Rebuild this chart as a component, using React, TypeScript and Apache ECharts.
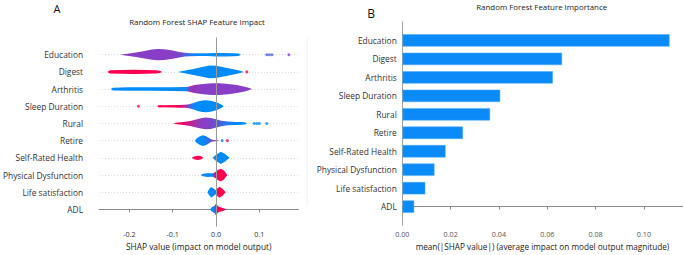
import React, { useEffect, useRef } from "react";
import * as echarts from "echarts";

const features = [
  "Education",
  "Digest",
  "Arthritis",
  "Sleep Duration",
  "Rural",
  "Retire",
  "Self-Rated Health",
  "Physical Dysfunction",
  "Life satisfaction",
  "ADL",
];

// mean(|SHAP|) per feature
const importance = [0.1105, 0.066, 0.0622, 0.0404, 0.0362, 0.025, 0.0178, 0.0132, 0.0094, 0.0048];

const shapTicks = [-0.2, -0.1, 0, 0.1];
const importanceTicks = [0, 0.02, 0.04, 0.06, 0.08, 0.1];

// violin profiles: [shap value, half-height (row units), feature value colour 0=low(blue) 1=high(red)]
const educationViolin = [
  [-0.222, 0, 0.5], [-0.205, 0.06, 0.5], [-0.185, 0.13, 0.5], [-0.165, 0.22, 0.5],
  [-0.148, 0.3, 0.5], [-0.135, 0.33, 0.5], [-0.12, 0.31, 0.5], [-0.1, 0.24, 0.5],
  [-0.085, 0.16, 0.45], [-0.072, 0.11, 0.3], [-0.06, 0.09, 0.12], [-0.04, 0.08, 0],
  [-0.02, 0.08, 0], [0.0, 0.1, 0], [0.02, 0.1, 0], [0.04, 0.09, 0], [0.052, 0.07, 0], [0.057, 0, 0],
];
const digestViolin = [
  [-0.251, 0, 1], [-0.245, 0.09, 1], [-0.22, 0.11, 1], [-0.19, 0.12, 1], [-0.16, 0.11, 1],
  [-0.138, 0.09, 1], [-0.128, 0.05, 1], [-0.125, 0, 1], [-0.088, 0, 0], [-0.075, 0.07, 0],
  [-0.055, 0.16, 0], [-0.035, 0.27, 0], [-0.015, 0.37, 0], [0.0, 0.36, 0], [0.02, 0.26, 0],
  [0.04, 0.15, 0], [0.056, 0.07, 0], [0.064, 0, 0],
];
const arthritisViolin = [
  [-0.243, 0, 0], [-0.238, 0.08, 0], [-0.2, 0.1, 0], [-0.15, 0.1, 0], [-0.1, 0.11, 0],
  [-0.068, 0.12, 0.05], [-0.06, 0.17, 0.6], [-0.05, 0.23, 0.55], [-0.03, 0.3, 0.5],
  [-0.01, 0.34, 0.5], [0.008, 0.34, 0.5], [0.028, 0.3, 0.5], [0.048, 0.23, 0.5],
  [0.066, 0.14, 0.5], [0.077, 0.06, 0.5], [0.083, 0, 0.5],
];
const sleepViolin = [
  [-0.136, 0, 1], [-0.132, 0.07, 1], [-0.12, 0.06, 1], [-0.1, 0.07, 1], [-0.085, 0.08, 0.95],
  [-0.072, 0.09, 0.7], [-0.062, 0.12, 0.35], [-0.052, 0.19, 0.05], [-0.042, 0.27, 0],
  [-0.032, 0.33, 0], [-0.022, 0.35, 0], [-0.01, 0.31, 0], [0.002, 0.22, 0], [0.011, 0.12, 0],
  [0.018, 0, 0],
];
const ruralViolin = [
  [-0.099, 0, 1], [-0.09, 0.05, 1], [-0.075, 0.09, 0.9], [-0.06, 0.15, 0.75], [-0.046, 0.23, 0.6],
  [-0.035, 0.3, 0.52], [-0.024, 0.34, 0.5], [-0.012, 0.32, 0.45], [0.0, 0.24, 0.35],
  [0.012, 0.16, 0.25], [0.026, 0.11, 0.12], [0.045, 0.09, 0.03], [0.06, 0.08, 0],
  [0.068, 0.05, 0], [0.071, 0, 0],
];
const retireViolin = [
  [-0.049, 0, 0], [-0.045, 0.12, 0], [-0.038, 0.24, 0], [-0.031, 0.31, 0], [-0.024, 0.27, 0.08],
  [-0.017, 0.17, 0.2], [-0.012, 0.08, 0.35], [-0.005, 0.04, 0.6], [0.003, 0.03, 0.8], [0.007, 0, 0.8],
];
const selfRatedViolin = [
  [-0.056, 0, 1], [-0.051, 0.08, 1], [-0.043, 0.12, 1], [-0.035, 0.1, 1], [-0.029, 0, 1],
  [-0.008, 0, 0], [0.0, 0.18, 0], [0.011, 0.36, 0], [0.021, 0.22, 0], [0.031, 0, 0],
];
const physicalViolin = [
  [-0.036, 0, 0], [-0.03, 0.07, 0], [-0.02, 0.11, 0], [-0.012, 0.1, 0], [-0.006, 0.11, 0.2],
  [-0.002, 0.18, 1], [0.005, 0.3, 1], [0.011, 0.37, 1], [0.018, 0.26, 1], [0.026, 0, 1],
];
const lifeViolin = [
  [-0.02, 0, 0], [-0.016, 0.18, 0], [-0.011, 0.31, 0], [-0.005, 0.2, 0], [-0.001, 0.12, 0.2],
  [0.002, 0.2, 1], [0.008, 0.32, 1], [0.015, 0.2, 1], [0.022, 0, 1],
];
const adlViolin = [
  [-0.014, 0, 0], [-0.01, 0.12, 0], [-0.006, 0.18, 0], [-0.003, 0.22, 0.2], [-0.001, 0.33, 0.6],
  [0.001, 0.33, 1], [0.004, 0.2, 1], [0.008, 0.14, 1], [0.014, 0.1, 1], [0.019, 0.06, 1], [0.023, 0, 1],
];
const violins = [
  educationViolin, digestViolin, arthritisViolin, sleepViolin, ruralViolin,
  retireViolin, selfRatedViolin, physicalViolin, lifeViolin, adlViolin,
];

// outlier dots: [shap value, feature index, colour value]
const shapDots = [
  [0.117, 0, 0.2], [0.123, 0, 0.3], [0.129, 0, 0.3], [0.168, 0, 0.5],
  [0.071, 1, 1],
  [-0.179, 3, 1],
  [0.088, 4, 0], [0.094, 4, 0], [0.1, 4, 0], [0.117, 4, 0],
  [0.014, 5, 0.1], [0.026, 5, 0.9],
];

const FONT = "'Open Sans', 'Noto Sans', sans-serif";
const BLUE = [0, 139, 251];
const PURPLE = [136, 62, 198];
const RED = [255, 0, 81];

function cmap(c: number) {
  const a = c < 0.5 ? BLUE : PURPLE;
  const b = c < 0.5 ? PURPLE : RED;
  const t = c < 0.5 ? c / 0.5 : (c - 0.5) / 0.5;
  const m = a.map((v, i) => Math.round(v + (b[i] - v) * t));
  return `rgb(${m[0]},${m[1]},${m[2]})`;
}

const rowLabel = (v: number) => features[9 - v] ?? "";

export default function App() {
  const ref = useRef<HTMLDivElement>(null);
  useEffect(() => {
    if (!ref.current) return;
    const chart = echarts.init(ref.current, undefined, { renderer: "svg" });
    const option: any = {
      animation: false,
      backgroundColor: "#fff",
      textStyle: { fontFamily: FONT },
      grid: [
        { left: 96, top: 37.5, width: 202.4, height: 192.5 },
        { left: 402.3, top: 22, width: 280.3, height: 204.7 },
      ],
      xAxis: [
        {
          gridIndex: 0,
          type: "value",
          min: -0.27,
          max: 0.19,
          axisLine: { lineStyle: { color: "#8a8a8a", width: 1 } },
          axisTick: { show: true, customValues: shapTicks, length: 3, lineStyle: { color: "#8a8a8a" } },
          axisLabel: {
            customValues: shapTicks,
            formatter: (v: number) => v.toFixed(1),
            fontSize: 7.2,
            color: "#333",
            margin: 3.5,
            fontFamily: FONT,
          },
          splitLine: { show: false },
          name: "SHAP value (impact on model output)",
          nameLocation: "middle",
          nameGap: 12.5,
          nameTextStyle: { fontSize: 8.4, color: "#222", fontFamily: FONT },
        },
        {
          gridIndex: 1,
          type: "value",
          min: 0,
          max: 0.116,
          axisLine: { lineStyle: { color: "#8a8a8a", width: 1 } },
          axisTick: { show: true, customValues: importanceTicks, length: 3, lineStyle: { color: "#8a8a8a" } },
          axisLabel: {
            customValues: importanceTicks,
            formatter: (v: number) => v.toFixed(2),
            fontSize: 7.2,
            color: "#555",
            margin: 5,
            fontFamily: FONT,
          },
          splitLine: { show: false },
          name: "mean(|SHAP value|) (average impact on model output magnitude)",
          nameLocation: "middle",
          nameGap: 14,
          nameTextStyle: { fontSize: 8.2, color: "#222", fontFamily: FONT },
        },
      ],
      yAxis: [
        {
          gridIndex: 0,
          type: "value",
          min: -1,
          max: 10,
          interval: 1,
          axisLine: { show: false },
          axisTick: { show: false },
          axisLabel: { formatter: rowLabel, fontSize: 8.4, color: "#333", margin: 16, fontFamily: FONT },
          splitLine: {
            show: true,
            showMinLine: false,
            showMaxLine: false,
            lineStyle: { color: "#dcdcdc", type: [1, 2], width: 1 },
          },
        },
        {
          gridIndex: 1,
          type: "value",
          min: -1,
          max: 10,
          interval: 1,
          axisLine: { show: true, lineStyle: { color: "#a0a0a0", width: 1 } },
          axisTick: { show: false },
          axisLabel: { formatter: rowLabel, fontSize: 8.4, color: "#333", margin: 5.5, fontFamily: FONT },
          splitLine: { show: false },
        },
      ],
      series: [
        {
          type: "custom",
          xAxisIndex: 0,
          yAxisIndex: 0,
          data: features.map((_, i) => [0, 9 - i, i]),
          renderItem: (params: any, api: any) => {
            const fi = api.value(2);
            const row = api.value(1);
            const pts = violins[fi];
            const top = pts.map((p) => api.coord([p[0], row + p[1]]));
            const bot = pts
              .slice()
              .reverse()
              .map((p) => api.coord([p[0], row - p[1]]));
            const x0 = top[0][0];
            const x1 = top[top.length - 1][0];
            const stops = pts.map((p, i) => ({
              offset: Math.min(1, Math.max(0, (top[i][0] - x0) / (x1 - x0))),
              color: cmap(p[2]),
            }));
            return {
              type: "polygon",
              shape: { points: top.concat(bot) },
              style: {
                fill: new echarts.graphic.LinearGradient(x0, 0, x1, 0, stops, true),
                stroke: null,
              },
            };
          },
          z: 2,
        },
        {
          type: "scatter",
          xAxisIndex: 0,
          yAxisIndex: 0,
          symbolSize: 3,
          data: shapDots.map((d) => [d[0], 9 - d[1], d[2]]),
          itemStyle: { color: (p: any) => cmap(p.value[2]) },
          z: 3,
          markLine: {
            silent: true,
            symbol: ["none", "none"],
            label: { show: false },
            lineStyle: { color: "#9a9a9a", width: 1, type: "solid" },
            data: [{ xAxis: 0 }],
          },
        },
        {
          type: "custom",
          xAxisIndex: 1,
          yAxisIndex: 1,
          data: importance.map((v, i) => [v, 9 - i]),
          renderItem: (params: any, api: any) => {
            const s = api.coord([0, api.value(1)]);
            const e = api.coord([api.value(0), api.value(1)]);
            const h = api.size([0, 0.64])[1];
            return {
              type: "rect",
              shape: { x: s[0] + 0.5, y: s[1] - h / 2, width: e[0] - s[0] - 0.5, height: h },
              style: { fill: "#0a8bf8", stroke: "#4aa8fa", lineWidth: 0.5 },
            };
          },
        },
      ],
      graphic: [
        { type: "text", x: 57, y: 8, style: { text: "A", font: `11px ${FONT}`, fill: "#111", align: "center", verticalAlign: "middle" } },
        { type: "text", x: 371, y: 13, style: { text: "B", font: `12px ${FONT}`, fill: "#111", align: "center", verticalAlign: "middle" } },
        { type: "text", x: 197, y: 22, style: { text: "Random Forest SHAP Feature Impact", font: `7.9px ${FONT}`, fill: "#222", align: "center", verticalAlign: "middle" } },
        { type: "text", x: 541.7, y: 6.5, style: { text: "Random Forest Feature Importance", font: `7.9px ${FONT}`, fill: "#222", align: "center", verticalAlign: "middle" } },
        { type: "line", shape: { x1: 307, y1: 38, x2: 307, y2: 205 }, style: { stroke: "#efefef", lineWidth: 1 } },
      ],
    };
    chart.setOption(option);
    return () => chart.dispose();
  }, []);
  return <div ref={ref} style={{ position: "fixed", left: 0, top: 0, width: 685, height: 255, background: "#fff" }} />;
}
